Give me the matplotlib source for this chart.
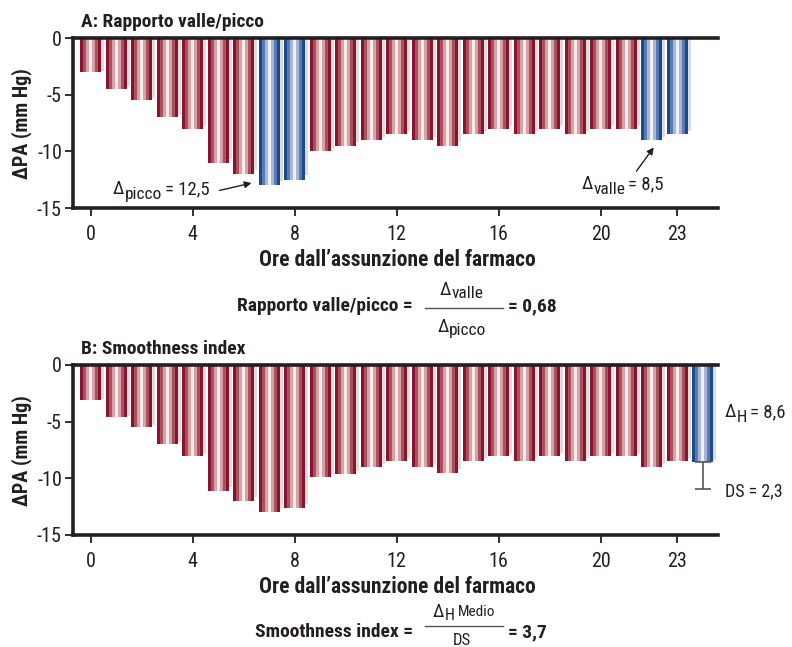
import matplotlib
matplotlib.use('Agg')
import matplotlib.pyplot as plt
from matplotlib import font_manager
from matplotlib.lines import Line2D
from matplotlib.transforms import IdentityTransform

# cerca un carattere stretto (tipo Helvetica Condensed), altrimenti Liberation Sans
fam, stretch = 'Liberation Sans', 'normal'
for f in font_manager.fontManager.ttflist:
    if f.name in ('Liberation Sans Narrow', 'Roboto Condensed', 'Open Sans Condensed'):
        fam, stretch = f.name, 'normal'
        break
    if f.name in ('DejaVu Sans', 'Noto Sans') and f.stretch in ('condensed', 'semi-condensed', 600, 500):
        fam, stretch = f.name, 'condensed'

plt.rcParams['font.family'] = [fam, 'DejaVu Sans']
plt.rcParams['font.stretch'] = stretch
plt.rcParams['axes.unicode_minus'] = False

# dati (mm Hg, ore 0-23)
hours = list(range(24))
pa_a = [-3.0, -4.5, -5.5, -7.0, -8.0, -11.0, -12.0, -13.0, -12.5, -10.0, -9.5, -9.0,
        -8.5, -9.0, -9.5, -8.5, -8.0, -8.5, -8.0, -8.5, -8.0, -8.0, -9.0, -8.5]
blue_a = [7, 8, 22, 23]
pa_b = [-3.1, -4.6, -5.5, -7.0, -8.0, -11.1, -12.0, -13.0, -12.6, -9.9, -9.6, -9.0,
        -8.5, -9.0, -9.5, -8.5, -8.0, -8.5, -8.0, -8.5, -8.0, -8.0, -9.0, -8.5]
mean_pos = 24
mean_h = -8.6
ds = 2.3
picco = 12.5
valle = 8.5
xticks = [0, 4, 8, 12, 16, 20, 23]
yticks = [-15, -10, -5, 0]
ylabels = ['-15', '-10', '-5', '0']

red = ['#8a1430', '#a8525c', '#d6a2a5', '#f8ecec', '#d6a2a5', '#a8525c', '#8a1430']
blue = ['#1b4a8a', '#5a7ab2', '#aab6d9', '#f0f2f9', '#aab6d9', '#5a7ab2', '#1b4a8a']
ink = '#231f20'

W, H = 792, 647


def fx(px):
    return px / W


def fy(py):
    return 1 - py / H


def num(v):
    return f'{v:.1f}'.replace('.', ',')


def draw_bars(ax, xs, vals, shades):
    w = 0.82
    sw = w / len(shades)
    for x, v in zip(xs, vals):
        ax.bar(x + 0.12, v * 0.97, width=w, color='#dcdcdc', linewidth=0, zorder=1)
        for i, c in enumerate(shades):
            ax.bar(x - w / 2 + (i + 0.5) * sw, v, width=sw * 1.02, color=c,
                   linewidth=0, zorder=2)


def style(ax, top):
    ax.set_xlim(-0.7, 24.6)
    ax.set_ylim(-15, 0)
    ax.spines['right'].set_visible(False)
    for s in ['top', 'left', 'bottom']:
        ax.spines[s].set_linewidth(2.6)
        ax.spines[s].set_color(ink)
        ax.spines[s].set_zorder(5)
    ax.set_xticks(xticks)
    ax.set_yticks(yticks)
    ax.set_yticklabels(ylabels)
    ax.tick_params(direction='out', length=6, width=1.3, color=ink,
                   labelsize=14.5, labelcolor=ink)
    ax.tick_params(axis='x', pad=6)
    ax.tick_params(axis='y', pad=2)
    fig.text(fx(22), fy(top + 86), 'ΔPA (mm Hg)', fontsize=14.5, fontweight='bold',
             color=ink, rotation=90, ha='center', va='center')
    fig.text(fx(397), fy(top + 228), 'Ore dall’assunzione del farmaco', fontsize=15.5,
             fontweight='bold', color=ink, ha='center', va='baseline')


fig = plt.figure(figsize=(7.92, 6.47), dpi=100)
renderer = fig.canvas.get_renderer()


def rich(x, y, parts, ha='left'):
    # x, y in pixel dall'alto; y = linea di base; parts: (testo, size, dy, peso, spazio)
    made = []
    cx = 0.0
    for s, size, dy, wt, gap in parts:
        t = fig.text(0, 0, s, fontsize=size, fontweight=wt, color=ink, ha='left',
                     va='baseline', transform=IdentityTransform())
        made.append((t, cx, dy))
        cx += t.get_window_extent(renderer).width + gap
    total = cx - parts[-1][4]
    x0 = x - {'left': 0, 'center': total / 2, 'right': total}[ha]
    for t, off, dy in made:
        t.set_position((x0 + off, H - (y + dy)))


def to_px(ax, x, y):
    px, py = ax.transData.transform((x, y))
    return px, H - py


ax1 = fig.add_axes([fx(73), fy(208), fx(718) - fx(73), fy(38) - fy(208)])
ax2 = fig.add_axes([fx(73), fy(535), fx(718) - fx(73), fy(365) - fy(535)])

# Pannello A
red_x = [h for h in hours if h not in blue_a]
draw_bars(ax1, red_x, [pa_a[h] for h in red_x], red)
draw_bars(ax1, blue_a, [pa_a[h] for h in blue_a], blue)
style(ax1, 38)
fig.text(fx(81), fy(27), 'A: Rapporto valle/picco', fontsize=14, fontweight='bold',
         color=ink, va='baseline')

arrow = dict(arrowstyle='-|>', color=ink, lw=1, mutation_scale=10, shrinkA=0, shrinkB=0)
ax1.annotate('', xy=(7 - 0.7, pa_a[7] + 0.2), xytext=(5.05, -13.45), arrowprops=arrow)
ax1.annotate('', xy=(22.08, pa_a[22] - 0.65), xytext=(21.4, -11.75), arrowprops=arrow)
x, y = to_px(ax1, 0.86, -13.78)
rich(x, y, [('Δ', 13.5, 0, 'normal', 0.5), ('picco', 12.5, 5, 'normal', 3),
            ('= ' + num(picco), 13.5, 0, 'normal', 0)])
x, y = to_px(ax1, 19.25, -13.34)
rich(x, y, [('Δ', 13.5, 0, 'normal', 0.5), ('valle', 12.5, 5, 'normal', 2),
            ('= ' + num(valle), 13.5, 0, 'normal', 0)])

# formula A
rich(413, 311, [('Rapporto valle/picco =', 14, 0, 'bold', 0)], ha='right')
fig.add_artist(Line2D([fx(425), fx(503)], [fy(308), fy(308)], color='#555555', lw=1))
rich(462, 295, [('Δ', 13.5, 0, 'normal', 0.5), ('valle', 12.5, 3, 'normal', 0)], ha='center')
rich(462, 332, [('Δ', 13.5, 0, 'normal', 0.5), ('picco', 12.5, 3, 'normal', 0)], ha='center')
rich(508, 311, [('= 0,68', 14, 0, 'bold', 0)])

# Pannello B
draw_bars(ax2, hours, pa_b, red)
draw_bars(ax2, [mean_pos], [mean_h], blue)
ax2.errorbar([mean_pos], [mean_h], yerr=[[ds], [0]], fmt='none', ecolor='#555555',
             elinewidth=1.2, capsize=6, capthick=1.2, zorder=3)
style(ax2, 365)
fig.text(fx(81), fy(354), 'B: Smoothness index', fontsize=14, fontweight='bold',
         color=ink, va='baseline')
x, y = to_px(ax2, 24.86, -4.63)
rich(x, y, [('Δ', 13.5, 0, 'normal', 0.5), ('H', 12, 5, 'normal', 3),
            ('= ' + num(-mean_h), 13.5, 0, 'normal', 0)])
x, y = to_px(ax2, 24.86, -11.62)
rich(x, y, [('DS = ' + num(ds), 13, 0, 'normal', 0)])

# formula B
rich(413, 637, [('Smoothness index =', 14, 0, 'bold', 0)], ha='right')
fig.add_artist(Line2D([fx(425), fx(503)], [fy(626), fy(626)], color='#555555', lw=1))
rich(464, 617, [('Δ', 13.5, 0, 'normal', 0.5), ('H', 11.5, 3, 'normal', 3),
                ('Medio', 11, -1, 'normal', 0)], ha='center')
rich(462, 645, [('DS', 12, 0, 'normal', 0)], ha='center')
rich(508, 637, [('= 3,7', 14, 0, 'bold', 0)])

fig.savefig('out.png', dpi=100)
